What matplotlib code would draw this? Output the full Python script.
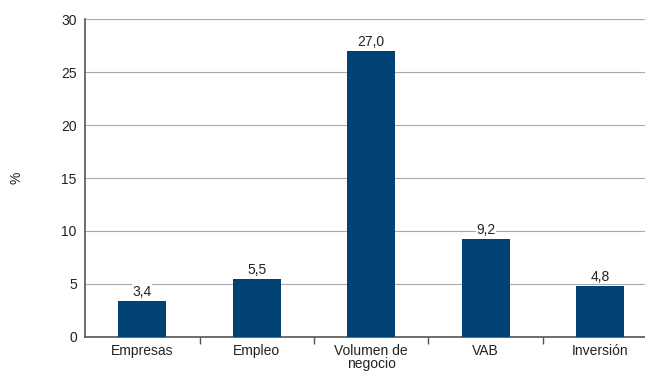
import matplotlib.pyplot as plt
import numpy as np

categories = ["Empresas", "Empleo", "Volumen de\nnegocio", "VAB", "Inversión"]
values = [3.4, 5.5, 27.0, 9.2, 4.8]
yticks = [0, 5, 10, 15, 20, 25, 30]

plt.rcParams['font.family'] = ['Liberation Sans', 'DejaVu Sans']
FS = 10

fig = plt.figure(figsize=(6.45, 3.76), dpi=100)
ax = fig.add_axes([0.132, 0.104, 0.887, 0.845])

x = np.arange(len(categories))
bars = ax.bar(x, values, width=0.42, color="#004272", zorder=3)

for xi, v in zip(x, values):
    ax.text(xi, v + 0.2, f"{v:.1f}".replace(".", ","), ha="center", va="bottom",
            fontsize=FS, color="#222222", zorder=4,
            bbox=dict(facecolor="white", edgecolor="none", pad=0.3))

ax.set_xlim(-0.5, len(categories) - 0.5)
ax.set_ylim(0, 30)
ax.set_yticks(yticks)
ax.set_yticklabels([str(t) for t in yticks], fontsize=FS, color="#222222")
ax.yaxis.grid(True, color="#aaaaaa", linewidth=0.8, zorder=0)
ax.tick_params(axis="y", length=0, pad=6)

# category labels centred, tick marks between the bars
ax.set_xticks(x)
ax.set_xticklabels(categories, fontsize=FS, color="#222222", linespacing=0.95)
ax.tick_params(axis="x", which="major", length=0, pad=5)
ax.set_xticks(np.arange(0.5, len(categories) - 0.5), minor=True)
ax.tick_params(axis="x", which="minor", length=5, width=1, color="#555555", direction="out")

ax.set_ylabel("%", fontsize=FS, color="#222222", labelpad=27)

for side in ["top", "right"]:
    ax.spines[side].set_visible(False)
ax.spines["left"].set_color("#555555")
ax.spines["bottom"].set_color("#555555")
ax.spines["left"].set_linewidth(1.2)
ax.spines["bottom"].set_linewidth(1.2)

fig.savefig("out.png", dpi=100)
